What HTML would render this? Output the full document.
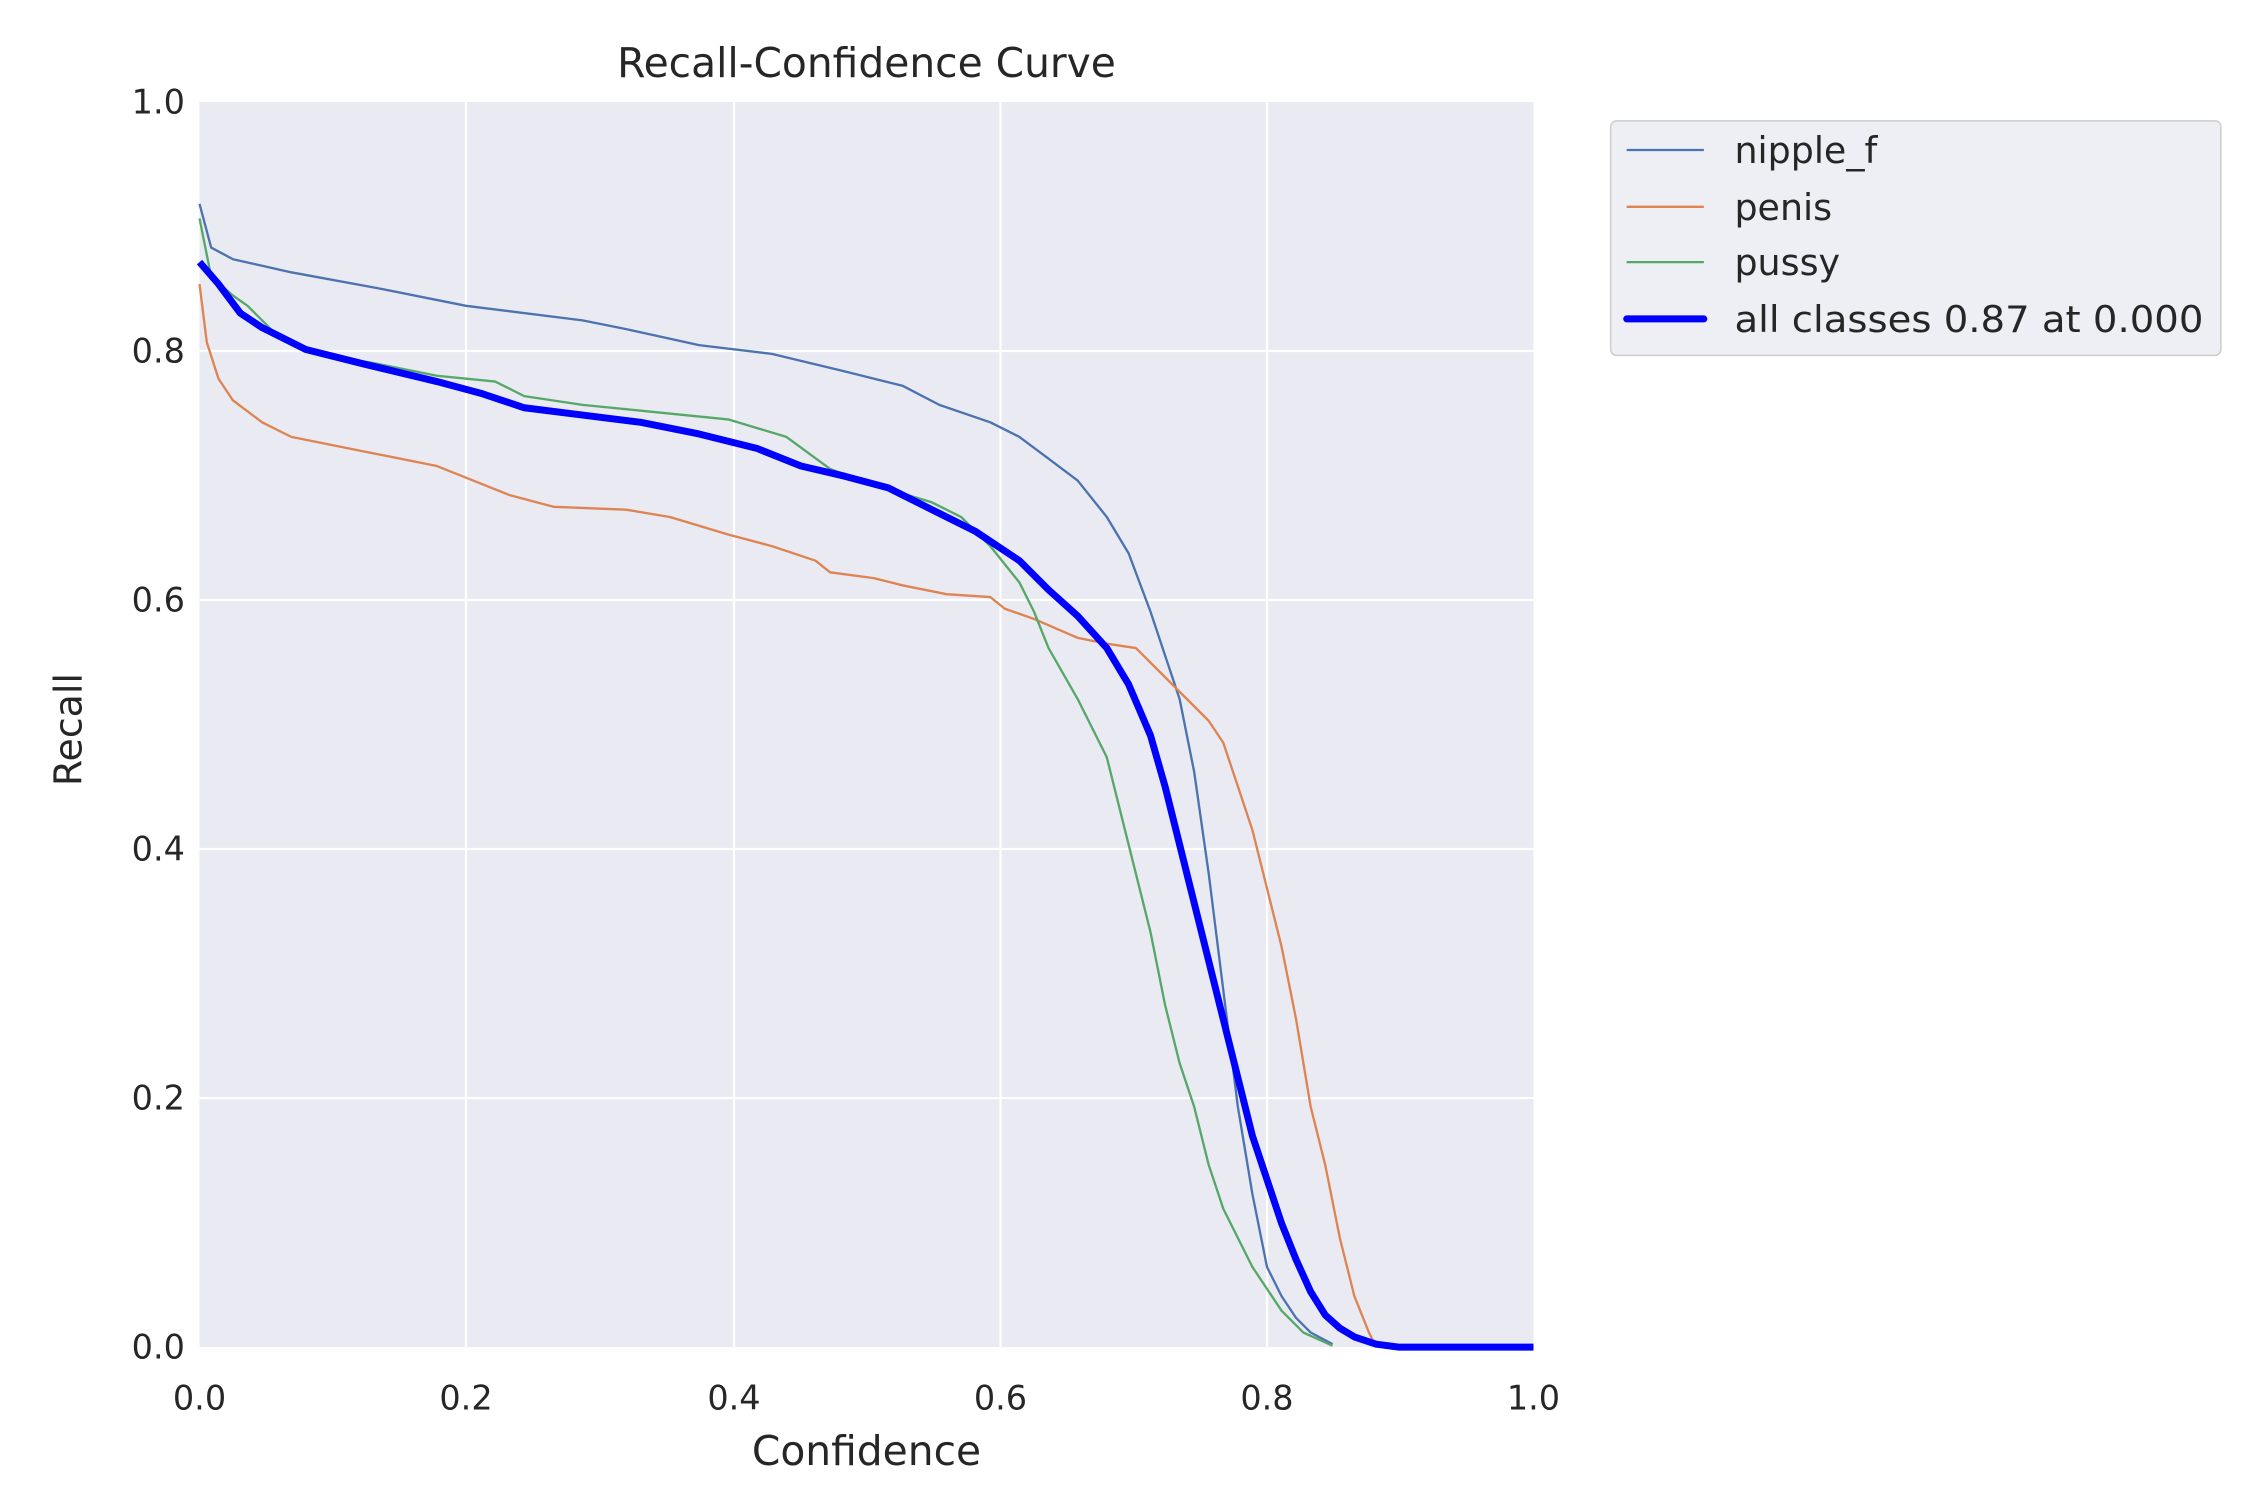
<!DOCTYPE html>
<html><head><style>html,body{margin:0;padding:0;background:#fff}svg{display:block}</style></head>
<body>
<svg width="2250" height="1500" viewBox="0 0 1545 1030" xmlns="http://www.w3.org/2000/svg" font-family="DejaVu Sans, Liberation Sans, sans-serif" fill="#262626">
<rect x="137" y="70" width="916" height="855" fill="#eaeaf2"/>
<g stroke="#fff" stroke-width="1.5">
<line x1="320" y1="70" x2="320" y2="925"/><line x1="504" y1="70" x2="504" y2="925"/><line x1="687" y1="70" x2="687" y2="925"/><line x1="870" y1="70" x2="870" y2="925"/>
<line x1="137" y1="754" x2="1053" y2="754"/><line x1="137" y1="583" x2="1053" y2="583"/><line x1="137" y1="412" x2="1053" y2="412"/><line x1="137" y1="241" x2="1053" y2="241"/>
</g>
<g fill="none" stroke-width="1.6" stroke-linejoin="round">
<polyline stroke="#4c72b0" points="137,140 145,170 160,178 200,187 260,198 320,210 400,220 430,226 480,237 530,243 580,255 620,265 645,278 680,290 700,300 720,315 740,330 760,355 775,380 790,420 800,450 810,480 820,530 830,600 840,680 850,760 860,820 870,870 880,890 890,905 900,915 915,923"/>
<polyline stroke="#dd8452" points="137,195 142,235 150,260 160,275 180,290 200,300 250,310 300,320 320,328 350,340 380,348 430,350 460,355 500,367 530,375 560,385 570,393 600,397 620,402 650,408 680,410 690,418 710,425 740,438 760,442 780,445 790,455 810,475 830,495 840,510 850,540 860,570 870,610 880,650 890,700 900,760 910,800 920,850 930,890 940,915 945,925"/>
<polyline stroke="#55a868" points="137,150 145,190 160,203 170,210 190,230 220,243 260,250 300,258 340,262 360,272 400,278 440,282 500,288 540,300 570,322 600,333 640,345 660,355 680,375 700,400 710,420 720,445 740,480 760,520 770,560 780,600 790,640 800,690 810,730 820,760 830,800 840,830 850,850 860,870 870,885 880,900 895,915 915,924"/>
<polyline stroke="#0000ff" stroke-width="4.8" points="137,180 150,195 165,215 180,225 210,240 250,250 300,262 330,270 360,280 400,285 440,290 480,298 520,308 550,320 580,327 610,335 640,350 670,365 700,385 720,405 740,423 760,445 775,470 790,505 800,540 810,580 820,620 830,660 840,700 850,740 860,780 870,810 880,840 890,865 900,887 910,903 920,912 930,918 945,923 960,925 1053,925"/>
</g>
<g font-size="23" text-anchor="end">
<text x="127" y="933">0.0</text><text x="127" y="762">0.2</text><text x="127" y="591">0.4</text><text x="127" y="420">0.6</text><text x="127" y="249">0.8</text><text x="127" y="78">1.0</text>
</g>
<g font-size="23" text-anchor="middle">
<text x="137" y="968">0.0</text><text x="320" y="968">0.2</text><text x="504" y="968">0.4</text><text x="687" y="968">0.6</text><text x="870" y="968">0.8</text><text x="1053" y="968">1.0</text>
</g>
<text x="595" y="1006" font-size="28" text-anchor="middle">Confidence</text>
<text transform="translate(56,501) rotate(-90)" font-size="26" text-anchor="middle">Recall</text>
<text x="595" y="53" font-size="28" text-anchor="middle">Recall-Confidence Curve</text>
<rect x="1106" y="83" width="419" height="161" rx="4" fill="#eaeaf2" fill-opacity="0.8" stroke="#cccccc" stroke-width="1"/>
<g stroke-width="1.6">
<line x1="1117" y1="103" x2="1170" y2="103" stroke="#4c72b0"/>
<line x1="1117" y1="142" x2="1170" y2="142" stroke="#dd8452"/>
<line x1="1117" y1="180" x2="1170" y2="180" stroke="#55a868"/>
<line x1="1117" y1="219" x2="1170" y2="219" stroke="#0000ff" stroke-width="4.8" stroke-linecap="round"/>
</g>
<g font-size="25">
<text x="1191" y="112">nipple_f</text><text x="1191" y="151">penis</text><text x="1191" y="189">pussy</text><text x="1191" y="228" textLength="322" lengthAdjust="spacingAndGlyphs">all classes 0.87 at 0.000</text>
</g>
</svg>
</body></html>
